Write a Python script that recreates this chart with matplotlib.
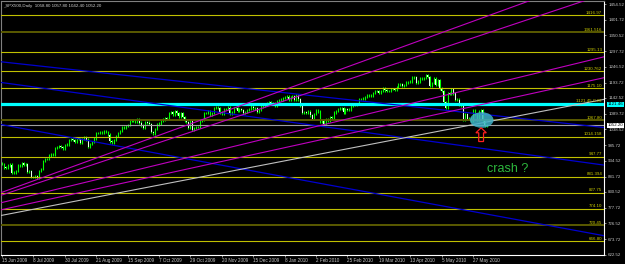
import matplotlib
matplotlib.use("Agg")
import matplotlib.pyplot as plt
import matplotlib.transforms as mtransforms
from matplotlib.patches import Ellipse, Polygon

# ---------------- data ----------------
close = [
    # Jun 2009 (from 15 Jun)
    923.72, 911.97, 910.71, 918.37, 921.23, 893.04, 895.10, 900.94, 920.26, 918.90, 927.23, 919.32,
    # Jul 2009
    923.33, 896.42, 898.72, 881.03, 879.56, 882.68, 879.13, 901.05, 905.84, 932.68, 940.74, 940.38,
    951.13, 954.58, 954.07, 976.29, 979.26, 982.18, 979.62, 975.15, 986.75, 987.48,
    # Aug 2009
    1002.63, 1005.65, 1002.72, 997.08, 1010.48, 1007.10, 994.35, 1005.81, 1012.73, 1004.09, 979.73,
    989.67, 996.46, 1007.37, 1026.13, 1025.57, 1028.00, 1028.12, 1030.98, 1028.93, 1020.62,
    # Sep 2009
    998.04, 994.75, 1003.24, 1016.40, 1025.39, 1033.37, 1044.14, 1042.73, 1049.34, 1052.63, 1068.76,
    1065.49, 1068.30, 1064.66, 1071.66, 1060.87, 1050.78, 1044.38, 1062.98, 1060.61, 1057.08,
    # Oct 2009
    1029.85, 1025.21, 1040.46, 1054.72, 1057.58, 1065.48, 1071.49, 1076.19, 1073.19, 1092.02, 1096.56,
    1087.68, 1097.91, 1091.06, 1081.40, 1092.91, 1079.60, 1066.95, 1063.41, 1042.63, 1066.11, 1036.19,
    # Nov 2009
    1042.88, 1045.41, 1046.50, 1066.63, 1069.30, 1093.08, 1093.01, 1098.51, 1087.24, 1093.48,
    1109.30, 1110.32, 1109.80, 1094.90, 1091.38, 1106.24, 1105.65, 1110.63, 1091.49, 1095.63,
    # Dec 2009
    1108.86, 1109.24, 1099.92, 1105.98, 1103.25, 1091.94, 1095.95, 1102.35, 1106.41, 1114.11, 1107.93,
    1109.18, 1096.08, 1102.47, 1114.05, 1118.02, 1120.59, 1126.48, 1127.78, 1126.20, 1126.42, 1115.10,
    # Jan 2010
    1132.99, 1136.52, 1137.14, 1141.69, 1144.98, 1146.98, 1136.22, 1145.68, 1148.46, 1136.03,
    1150.23, 1138.04, 1116.48, 1091.76, 1096.78, 1092.17, 1097.50, 1084.53, 1073.87,
    # Feb 2010
    1089.19, 1103.32, 1097.28, 1063.11, 1066.19, 1056.74, 1070.52, 1068.13, 1078.47, 1075.51,
    1094.87, 1099.51, 1106.75, 1109.17, 1108.01, 1094.60, 1105.24, 1102.94, 1104.49,
    # Mar 2010
    1115.71, 1118.31, 1118.79, 1122.97, 1138.70, 1138.50, 1140.45, 1145.61, 1150.24, 1149.99, 1150.51,
    1159.46, 1166.21, 1165.83, 1159.90, 1165.81, 1174.17, 1167.72, 1165.73, 1166.59, 1173.22, 1173.27, 1169.43,
    # Apr 2010
    1178.10, 1187.44, 1189.44, 1182.45, 1186.44, 1194.37, 1196.48, 1197.30, 1210.65, 1211.67, 1192.13,
    1197.52, 1207.17, 1205.94, 1208.67, 1217.28, 1212.05, 1183.71, 1191.36, 1206.78, 1186.69,
    # May 2010
    1202.26, 1173.60, 1165.87, 1128.15, 1110.88, 1159.73, 1155.79, 1171.67, 1157.44, 1135.68,
    1136.94, 1120.80, 1115.05, 1071.59, 1087.69, 1073.65, 1074.03, 1067.95, 1103.06, 1089.41,
    # Jun 2010
    1070.71, 1098.38, 1102.83, 1064.88, 1050.47, 1052.20,
]
first_open = 925.00

date_labels = ["15 Jun 2009", "8 Jul 2009", "30 Jul 2009", "21 Aug 2009", "15 Sep 2009",
               "7 Oct 2009", "29 Oct 2009", "20 Nov 2009", "15 Dec 2009", "8 Jan 2010",
               "2 Feb 2010", "25 Feb 2010", "19 Mar 2010", "13 Apr 2010", "5 May 2010",
               "27 May 2010"]
date_bar_step = 16

price_ticks = [1454.52, 1401.72, 1350.52, 1297.72, 1246.52, 1193.72, 1142.52, 1089.72,
               1038.52, 985.72, 934.52, 881.72, 830.52, 777.72, 726.52, 673.72, 622.52]

level_prices = [1416.97, 1361.516, 1295.13, 1230.762, 1175.10, 1067.80, 1014.158,
                947.77, 881.394, 827.75, 774.10, 720.45, 666.80]
level_labels = ["1416.97", "1361.516", "1295.13", "1230.762", "1175.10", "1067.80",
                "1014.158", "947.77", "881.394", "827.75", "774.10", "720.45", "666.80"]
dark_levels = [1361.516, 1067.80, 720.45]

cm_level = 1121.45
cm_label = "1121.45 C.M."
cm_axis_label = "1121.46"
bid_price = 1052.20
header = "_SPX500,Daily  1058.80 1057.80 1042.40 1052.20"

# trend lines: (bar1, price1, bar2, price2)
blue_lines = [(0, 1262.3, 300, 1049.2), (0, 1193.6, 300, 925.7), (0, 1053.8, 300, 693.3)]
magenta_lines = [(0, 829.4, 300, 1539.2), (0, 820.4, 300, 1472.5),
                 (0, 795.5, 300, 1268.6), (0, 771.9, 300, 1200.2)]
gray_line = (0, 753.0, 300, 1129.5)

ellipse_center = (244.4, 1069.4)
ellipse_size = (12.0, 52.0)
arrow_tip = (244.1, 1043.5)
arrow_base_price = 998.0
crash_pos = (247.0, 898.0)

# ---------------- figure ----------------
W, H = 625, 264
XMIN, XMAX = -0.5, 306.7
YMIN, YMAX = 621.2, 1464.5
AX_W, AX_H = 603, 254
fig = plt.figure(figsize=(W / 100, H / 100), dpi=100, facecolor="black")
ax = fig.add_axes([1 / W, 9 / H, AX_W / W, AX_H / H], facecolor="black")
ax.set_xlim(XMIN, XMAX)
ax.set_ylim(YMIN, YMAX)
bx = (XMAX - XMIN) / AX_W   # bars per pixel
py = (YMAX - YMIN) / AX_H   # price per pixel

FONT = ["Liberation Sans", "DejaVu Sans"]
SMALL = 3.2

# horizontal levels
for p in level_prices:
    dark = p in dark_levels
    ax.axhline(p, color="#5a5a00" if dark else "#c0c000", lw=1.4 if dark else 0.8, zorder=3)
blend = mtransforms.blended_transform_factory(ax.transAxes, ax.transData)
for p, lab in zip(level_prices, level_labels):
    ax.text(0.997, p + 1.5, lab, transform=blend, ha="right", va="bottom",
            fontsize=SMALL, color="#d0d000", family=FONT, zorder=6)

ax.axhline(bid_price, color="#a0a0a0", lw=0.8, zorder=3)
ax.axhline(cm_level, color="#00ffff", lw=2.3, zorder=3)
ax.text(0.997, cm_level + 4, cm_label, transform=blend, ha="right", va="bottom",
        fontsize=SMALL, color="#d0d000", family=FONT, zorder=6)

# trend lines
for b1, p1, b2, p2 in blue_lines:
    ax.axline((b1, p1), (b2, p2), color="#0000d0", lw=0.9, zorder=3)
for b1, p1, b2, p2 in magenta_lines:
    ax.axline((b1, p1), (b2, p2), color="#c000c0", lw=0.8, zorder=3)
ax.axline(gray_line[:2], gray_line[2:], color="#c0c0c0", lw=0.8, zorder=3)

# candles
wick = 4.0
opens = [first_open] + close[:-1]
xs = list(range(len(close)))
highs = [max(o, c) + wick for o, c in zip(opens, close)]
lows = [min(o, c) - wick for o, c in zip(opens, close)]
ax.vlines(xs, lows, highs, color="#00ff00", lw=0.8, zorder=2)
bear_x = [x for x, o, c in zip(xs, opens, close) if c < o]
bear_b = [c for o, c in zip(opens, close) if c < o]
bear_h = [o - c for o, c in zip(opens, close) if c < o]
ax.bar(bear_x, bear_h, bottom=bear_b, width=0.45, color="#e8ffe8", zorder=2.5, lw=0)

# annotations
ax.add_patch(Ellipse(ellipse_center, ellipse_size[0], ellipse_size[1],
                     fc="#3fb0c8", ec="none", alpha=0.85, zorder=4))
tx, ty = arrow_tip
hw, hl, sw = 5.2 * bx, 5.0 * py, 2.4 * bx
arrow_pts = [(tx, ty), (tx - hw, ty - hl), (tx - sw, ty - hl), (tx - sw, arrow_base_price),
             (tx + sw, arrow_base_price), (tx + sw, ty - hl), (tx + hw, ty - hl)]
ax.add_patch(Polygon(arrow_pts, closed=True, fc="none", ec="#ff2020", lw=0.9, zorder=5))
ax.text(crash_pos[0], crash_pos[1], "crash ?", fontsize=9, color="#2db83d",
        family=FONT, ha="left", va="baseline", zorder=6)

# axes & ticks
ax.yaxis.tick_right()
ax.set_yticks(price_ticks)
ax.set_yticklabels([f"{v:.2f}" for v in price_ticks])
ax.tick_params(axis="y", colors="#c8c8c8", labelsize=SMALL, length=1.5, width=0.5, pad=1.5)
ax.set_xticks([i * date_bar_step for i in range(len(date_labels))])
ax.set_xticklabels(date_labels, ha="left")
ax.tick_params(axis="x", colors="#c8c8c8", labelsize=3.3, length=1.5, width=0.5, pad=1.0)
for lab in ax.get_xticklabels() + ax.get_yticklabels():
    lab.set_family(FONT)
ax.spines["left"].set_color("#808080")
ax.spines["top"].set_color("#808080")
ax.spines["right"].set_color("#ffffff")
ax.spines["bottom"].set_color("#ffffff")
for s in ax.spines.values():
    s.set_linewidth(0.8)

# axis highlights
ax.text(1.006, cm_level, cm_axis_label, transform=blend, ha="left", va="center",
        fontsize=SMALL, color="#000000", family=FONT, clip_on=False, zorder=7,
        bbox=dict(fc="#00ffff", ec="none", pad=0.4))
ax.text(1.006, bid_price, f"{bid_price:.2f}", transform=blend, ha="left", va="center",
        fontsize=SMALL, color="#000000", family=FONT, clip_on=False, zorder=7,
        bbox=dict(fc="#ffffff", ec="none", pad=0.4))

fig.text(3 / W, 1 - 6 / H, header, fontsize=SMALL, color="#d0d0d0", family=FONT,
         ha="left", va="center")

fig.savefig("out.png", dpi=100, facecolor="black")
